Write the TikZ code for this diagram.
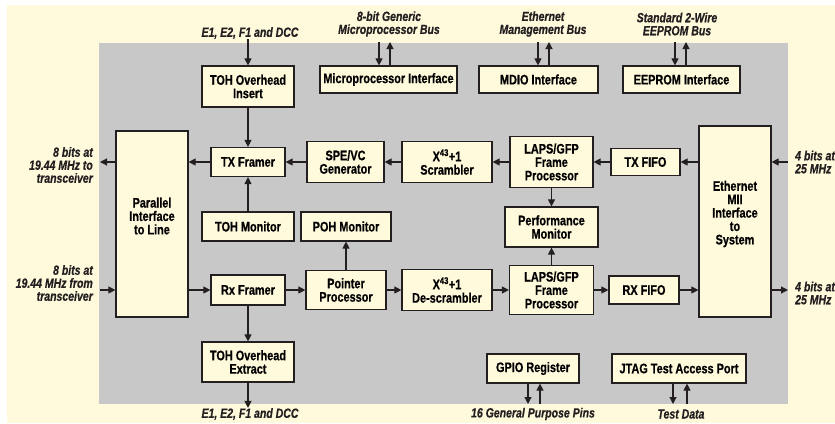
\documentclass[tikz,border=0pt]{standalone}
\usepackage{fontspec}
\setmainfont{Liberation Sans}[FakeStretch=0.79,
  BoldFeatures={FakeBold=0.6},BoldItalicFeatures={FakeBold=0.6}]
\usetikzlibrary{arrows.meta}
\definecolor{creamc}{HTML}{FFFADC}
\definecolor{grayc}{HTML}{C8C8C8}
\definecolor{linec}{HTML}{231F20}

\begin{document}
\begin{tikzpicture}[x=1pt,y=-1pt,
  blk/.style={draw=linec,line width=1.2pt,fill=creamc,align=center,inner sep=1pt,
    font=\bfseries\fontsize{13.8}{13.4}\selectfont,minimum height=29},
  lbl/.style={align=center,inner sep=0pt,text=linec,
    font=\bfseries\itshape\fontsize{13.3}{13}\selectfont},
  arr/.style={draw=linec,line width=1.1pt,-{Triangle[length=7pt,width=7pt]}}]
  \useasboundingbox (0,0) rectangle (835,423);
  \fill[creamc] (7,5) rectangle (835,423);
  \fill[grayc] (99,43) rectangle (788,404);

  % interface blocks along the top
  \node[blk,minimum width=92,minimum height=41] (tohins) at (248,86.5) {TOH Overhead\\Insert};
  \node[blk,minimum width=137,minimum height=27] (mpif) at (388.5,79.5) {Microprocessor Interface};
  \node[blk,minimum width=119,minimum height=27] (mdio) at (538.5,79.5) {MDIO Interface};
  \node[blk,minimum width=117,minimum height=27] (eeprom) at (681.5,79.5) {EEPROM Interface};

  % line and system sides (text sits above the middle)
  \node[blk,minimum width=72,minimum height=186,
    label={[name=piltext,yshift=8,align=center,font=\bfseries\fontsize{13.8}{13.4}\selectfont]center:Parallel\\Interface\\to Line}]
    (pil) at (152,224) {};
  \node[blk,minimum width=72,minimum height=191,
    label={[name=miitext,yshift=7.5,align=center,font=\bfseries\fontsize{13.8}{13.4}\selectfont]center:Ethernet\\MII\\Interface\\to\\System}]
    (mii) at (735,221.5) {};

  % transmit path
  \node[blk,minimum width=74] (txfr) at (248,162) {TX Framer};
  \node[blk,minimum width=77,minimum height=41] (spe) at (345.5,162) {SPE/VC\\Generator};
  \node[blk,minimum width=90,minimum height=41] (scr) at (447,162) {X\textsuperscript{43}+1\\Scrambler};
  \node[blk,minimum width=83,minimum height=51] (lapstx) at (551.5,162) {LAPS/GFP\\Frame\\Processor};
  \node[blk,minimum width=69,minimum height=27] (txfifo) at (645.5,162) {TX FIFO};

  % monitors
  \node[blk,minimum width=92] (tohmon) at (248,226.5) {TOH Monitor};
  \node[blk,minimum width=90] (pohmon) at (346,226.5) {POH Monitor};
  \node[blk,minimum width=93,minimum height=40] (perf) at (551.5,227) {Performance\\Monitor};

  % receive path
  \node[blk,minimum width=74,minimum height=30] (rxfr) at (248,290) {Rx Framer};
  \node[blk,minimum width=80,minimum height=39] (ptr) at (346,290) {Pointer\\Processor};
  \node[blk,minimum width=90,minimum height=41] (descr) at (447,290) {X\textsuperscript{43}+1\\De-scrambler};
  \node[blk,minimum width=84,minimum height=49] (lapsrx) at (551.5,290) {LAPS/GFP\\Frame\\Processor};
  \node[blk,minimum width=70,minimum height=28] (rxfifo) at (644,290) {RX FIFO};

  % blocks along the bottom
  \node[blk,minimum width=92,minimum height=40] (tohext) at (248,362) {TOH Overhead\\Extract};
  \node[blk,minimum width=92] (gpio) at (533,368.5) {GPIO Register};
  \node[blk,minimum width=134] (jtag) at (679,368.5) {JTAG Test Access Port};

  % outside labels
  \node[lbl] (e1top) at (250,33) {E1, E2, F1 and DCC};
  \node[lbl] (mpbus) at (389,24) {8-bit Generic\\Microprocessor Bus};
  \node[lbl] (mgbus) at (543,24) {Ethernet\\Management Bus};
  \node[lbl] (eebus) at (677,24) {Standard 2-Wire\\EEPROM Bus};
  \node[lbl,align=right,anchor=east] (txline) at (93,165) {8 bits at\\19.44 MHz to\\transceiver};
  \node[lbl,align=right,anchor=east] (rxline) at (93,283) {8 bits at\\19.44 MHz from\\transceiver};
  \node[lbl,align=left,anchor=west] (txsys) at (795,162) {4 bits at\\25 MHz};
  \node[lbl,align=left,anchor=west] (rxsys) at (795,293) {4 bits at\\25 MHz};
  \node[lbl] (e1bot) at (250,414) {E1, E2, F1 and DCC};
  \node[lbl] (gpins) at (533,414) {16 General Purpose Pins};
  \node[lbl] (tdata) at (681,414) {Test Data};

  \coordinate (txout) at (100,162);
  \coordinate (rxin) at (100,290);
  \coordinate (txin) at (788,162);
  \coordinate (rxout) at (788,290);
  \coordinate (mpa) at (379,42);
  \coordinate (mpb) at (390,42);
  \coordinate (mga) at (538,42);
  \coordinate (mgb) at (549,42);
  \coordinate (eea) at (675,42);
  \coordinate (eeb) at (686,42);
  \coordinate (gpa) at (528,404);
  \coordinate (gpb) at (540,404);
  \coordinate (jta) at (673,404);
  \coordinate (jtb) at (687,404);

  % transmit
  \draw[arr] (txin) -- (txin -| mii.east);
  \draw[arr] (mii.west |- txfifo) -- (txfifo);
  \draw[arr] (txfifo) -- (lapstx);
  \draw[arr] (lapstx) -- (scr);
  \draw[arr] (scr) -- (spe);
  \draw[arr] (spe) -- (txfr);
  \draw[arr] (txfr) -- (txfr -| pil.east);
  \draw[arr] (pil.west |- txout) -- (txout);
  \draw[arr] (e1top.south -| tohins.north) -- (tohins.north);
  \draw[arr] (tohins) -- (txfr);
  \draw[arr] (tohmon) -- (txfr);

  % receive
  \draw[arr] (rxin) -- (rxin -| pil.west);
  \draw[arr] (pil.east |- rxfr) -- (rxfr);
  \draw[arr] (rxfr) -- (ptr);
  \draw[arr] (ptr) -- (descr);
  \draw[arr] (descr) -- (lapsrx);
  \draw[arr] (lapsrx) -- (rxfifo);
  \draw[arr] (rxfifo) -- (rxfifo -| mii.west);
  \draw[arr] (mii.east |- rxout) -- (rxout);
  \draw[arr] (rxfr) -- (tohext);
  \draw[arr] (tohext) -- (tohext |- e1bot.north);
  \draw[arr] (ptr) -- (pohmon);
  \draw[arr] (lapstx) -- (perf);
  \draw[arr] (lapsrx) -- (perf);

  % buses
  \draw[arr] (mpa) -- (mpa |- mpif.north);
  \draw[arr] (mpb |- mpif.north) -- (mpb);
  \draw[arr] (mga) -- (mga |- mdio.north);
  \draw[arr] (mgb |- mdio.north) -- (mgb);
  \draw[arr] (eea) -- (eea |- eeprom.north);
  \draw[arr] (eeb |- eeprom.north) -- (eeb);
  \draw[arr] (gpa |- gpio.south) -- (gpa);
  \draw[arr] (gpb) -- (gpb |- gpio.south);
  \draw[arr] (jta |- jtag.south) -- (jta);
  \draw[arr] (jtb) -- (jtb |- jtag.south);
\end{tikzpicture}
\end{document}
